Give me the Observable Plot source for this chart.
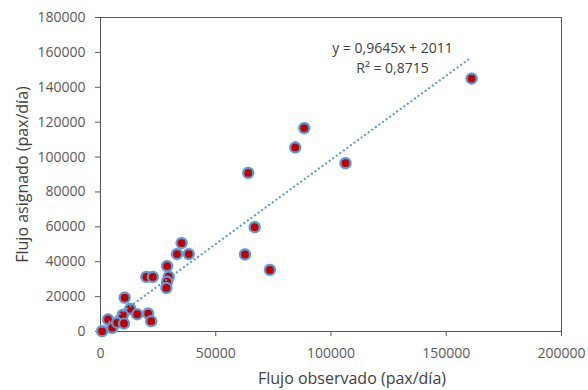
<!DOCTYPE html>
<html>
<head>
<meta charset="utf-8">
<script src="https://cdn.jsdelivr.net/npm/d3@7"></script>
<script src="https://cdn.jsdelivr.net/npm/@observablehq/plot@0.6"></script>
<style>
  html, body { margin: 0; padding: 0; background: #fff; }
</style>
</head>
<body>
<div id="chart"></div>
<script>
// Observed flow (pax/día)
const observado = [161000, 106300, 88400, 84500, 64100, 66900, 62700, 73500,
  35200, 33200, 38300, 28900, 29600, 28900, 28600, 19900, 22700,
  10500, 12900, 15900, 9700, 20700, 22000, 3300, 5100, 7200, 10200, 700];
// Assigned flow (pax/día)
const asignado = [145000, 96500, 116600, 105500, 90900, 59800, 44200, 35300,
  50700, 44400, 44400, 37500, 31400, 28600, 25000, 31300, 31300,
  19400, 13000, 9900, 9500, 10300, 5900, 6900, 2100, 5000, 4600, 200];

const xTicks = [0, 50000, 100000, 150000, 200000];
const yTicks = [0, 20000, 40000, 60000, 80000, 100000, 120000, 140000, 160000, 180000];

const slope = 0.9645, intercept = 2011, r2 = "0,8715";
const eqLabel = "y = 0,9645x + 2011";
const r2Label = "R² = " + r2;
const xTitle = "Flujo observado (pax/día)";
const yTitle = "Flujo asignado (pax/día)";

const points = observado.map((x, i) => ({x, y: asignado[i]}));
const xMin = d3.min(observado), xMax = d3.max(observado);
const trend = [xMin, xMax].map(x => ({x, y: slope * x + intercept}));

const axisColor = "#595959";
const font = "'Open Sans', sans-serif";

const chart = Plot.plot({
  width: 588,
  height: 390,
  marginLeft: 100,
  marginRight: 27,
  marginTop: 17,
  marginBottom: 59,
  style: {fontFamily: font, fontSize: "14px", color: axisColor, background: "#fff"},
  x: {domain: [0, 200000]},
  y: {domain: [0, 180000]},
  marks: [
    Plot.frame({stroke: axisColor, strokeWidth: 1}),
    Plot.axisX({ticks: xTicks, tickFormat: d => String(d), tickSize: 5, tickPadding: 12, stroke: axisColor, fill: axisColor, label: null}),
    Plot.axisY({ticks: yTicks, tickFormat: d => String(d), tickSize: 5, tickPadding: 10, stroke: axisColor, fill: axisColor, label: null}),
    Plot.dot(points, {x: "x", y: "y", r: 6.4, fill: "#9dc3e6", fillOpacity: 0.55}),
    Plot.dot(points, {x: "x", y: "y", r: 5, fill: "#c00000", stroke: "#5b9bd5", strokeWidth: 2.2}),
    Plot.line(trend, {x: "x", y: "y", stroke: "#5b9bd5", strokeWidth: 2.2, strokeDasharray: "0.1,4.3", strokeLinecap: "round"}),
    Plot.text([eqLabel], {frameAnchor: "top-left", dx: 292, dy: 31, text: d => d, textAnchor: "middle", lineAnchor: "middle", fill: "#404040", fontSize: 14}),
    Plot.text([r2Label], {frameAnchor: "top-left", dx: 292, dy: 51, text: d => d, textAnchor: "middle", lineAnchor: "middle", fill: "#404040", fontSize: 14}),
    Plot.text([xTitle], {frameAnchor: "bottom", dx: 21, dy: 47, text: d => d, textAnchor: "middle", lineAnchor: "middle", fill: "#404040", fontSize: 16}),
    Plot.text([yTitle], {frameAnchor: "left", dx: -78, dy: 0, rotate: -90, text: d => d, textAnchor: "middle", lineAnchor: "middle", fill: "#404040", fontSize: 16})
  ]
});
document.getElementById("chart").appendChild(chart);
</script>
</body>
</html>
